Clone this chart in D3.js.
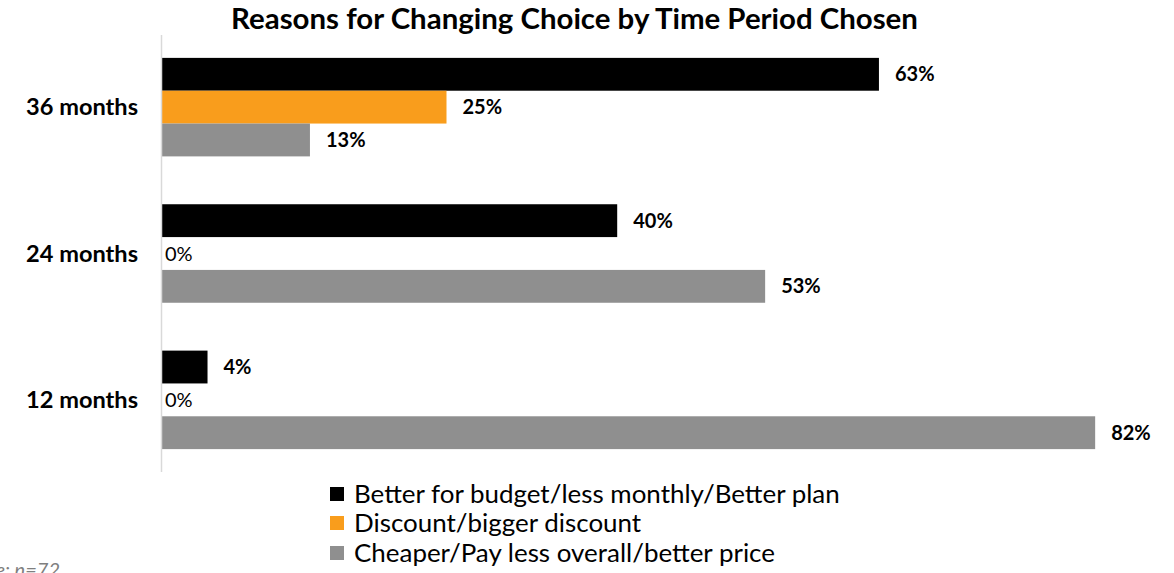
<!DOCTYPE html>
<html>
<head>
<meta charset="utf-8">
<script src="https://cdn.jsdelivr.net/npm/d3@7"></script>
<style>
  html, body { margin: 0; padding: 0; background: #fff; }
  svg { display: block; font-family: Lato, "Open Sans", sans-serif; }
</style>
</head>
<body>
<svg id="chart" width="1174" height="573"></svg>
<script>
// Time periods (top to bottom) and reason series
const periods = ["36 months", "24 months", "12 months"];
const seriesNames = [
  "Better for budget/less monthly/Better plan",
  "Discount/bigger discount",
  "Cheaper/Pay less overall/better price"
];
const seriesColors = ["#000000", "#F99D1C", "#8F8F8F"];

// Share of respondents per period, in series order
const budgetValues   = [0.63, 0.40, 0.04];
const discountValues = [0.25, 0.00, 0.00];
const cheaperValues  = [0.13, 0.53, 0.82];

const titleText = "Reasons for Changing Choice by Time Period Chosen";
const baseNote = "Base: n=72";

const values = [budgetValues, discountValues, cheaperValues];
const rows = [];
periods.forEach((p, i) => {
  seriesNames.forEach((s, j) => rows.push({ period: p, series: j, value: values[j][i] }));
});

const svg = d3.select("#chart");
const fmt = d3.format(".0%");

const x = d3.scaleLinear().domain([0, 1]).range([162, 1300]);
const y = d3.scaleBand().domain(periods).range([33, 474]).paddingInner(0.327).paddingOuter(0.17);
const yInner = d3.scaleBand().domain(d3.range(seriesNames.length)).range([0, y.bandwidth()]);

// Fit a text element to a target width by adjusting its font size
function fitWidth(sel, target) {
  const node = sel.node();
  const fs = parseFloat(sel.attr("font-size"));
  const w = node.getComputedTextLength();
  if (w > 0) sel.attr("font-size", (fs * target / w).toFixed(2));
}

// Title
const title = svg.append("text")
  .attr("x", 574.5).attr("y", 29)
  .attr("text-anchor", "middle")
  .attr("font-size", 23).attr("font-weight", 700)
  .attr("fill", "#000")
  .text(titleText);
fitWidth(title, 687);

// Bars
svg.append("g").selectAll("rect")
  .data(rows.filter(d => d.value > 0))
  .join("rect")
  .attr("x", x(0))
  .attr("y", d => y(d.period) + yInner(d.series))
  .attr("width", d => x(d.value) - x(0))
  .attr("height", yInner.bandwidth())
  .attr("fill", d => seriesColors[d.series]);

// Vertical axis line
svg.append("line")
  .attr("x1", 161.5).attr("x2", 161.5)
  .attr("y1", 35).attr("y2", 472)
  .attr("stroke", "#d9d9d9").attr("stroke-width", 1.5);

// Value labels
svg.append("g").selectAll("text")
  .data(rows)
  .join("text")
  .attr("x", d => d.value > 0 ? x(d.value) + 16 : x(0) + 3)
  .attr("y", d => y(d.period) + yInner(d.series) + yInner.bandwidth() / 2)
  .attr("dy", "0.35em")
  .attr("font-size", 20)
  .attr("font-weight", d => d.value > 0 ? 700 : 400)
  .attr("fill", "#000")
  .text(d => fmt(d.value));

// Category labels
const cats = svg.append("g").selectAll("text")
  .data(periods)
  .join("text")
  .attr("x", 138)
  .attr("y", d => y(d) + y.bandwidth() / 2)
  .attr("dy", "0.35em")
  .attr("text-anchor", "end")
  .attr("font-size", 22).attr("font-weight", 700)
  .attr("fill", "#000")
  .text(d => d);
fitWidth(d3.select(cats.nodes()[0]), 112);
cats.attr("font-size", d3.select(cats.nodes()[0]).attr("font-size"));

// Legend
const legend = svg.append("g");
const legendRows = [494, 523, 553];
seriesNames.forEach((name, i) => {
  legend.append("rect")
    .attr("x", 330).attr("y", legendRows[i] - 7)
    .attr("width", 14).attr("height", 14)
    .attr("fill", seriesColors[i]);
  const t = legend.append("text")
    .attr("x", 354).attr("y", legendRows[i])
    .attr("dy", "0.35em")
    .attr("font-size", 20)
    .attr("fill", "#000")
    .text(name);
  if (i === 0) fitWidth(t, 486);
});
const lfs = legend.select("text").attr("font-size");
legend.selectAll("text").attr("font-size", lfs);

// Sample size note
svg.append("text")
  .attr("x", 60).attr("y", 577)
  .attr("text-anchor", "end")
  .attr("font-size", 20).attr("font-style", "italic")
  .attr("fill", "#7f7f7f")
  .text(baseNote);
</script>
</body>
</html>
